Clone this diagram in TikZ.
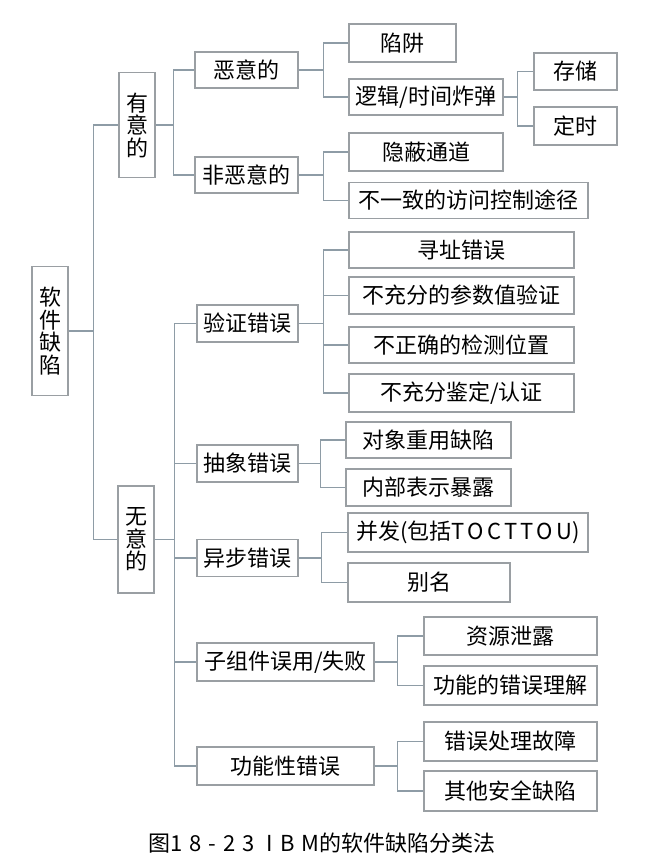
\documentclass[tikz,border=0pt]{standalone}
\usepackage{fontspec}
\setmainfont{Noto Sans CJK SC}
\newfontfamily\spaced[LetterSpace=15]{Noto Sans CJK SC}
\newfontfamily\wide[LetterSpace=32]{Noto Sans CJK SC}
\usetikzlibrary{calc}
\definecolor{lineGray}{HTML}{8E9CA6}
\definecolor{boxGray}{HTML}{9A9FA3}
\tikzset{
  link/.style={draw=lineGray, line width=1.4pt},
  boxT/.style={rectangle, draw=boxGray, line width=1.4pt, inner sep=0pt,
               align=center, font=\fontsize{22}{22.5}\selectfont},
  boxV/.style={boxT, minimum width=36pt},
}

\begin{document}
\begin{tikzpicture}[x=1pt, y=-1pt]
  \useasboundingbox (0,0) rectangle (657,857);
  % root and first level
  \node[boxV, minimum height=129pt] (root) at (50,331) {软\\件\\缺\\陷};
  \node[boxV, minimum height=105pt] (yes) at (137,125) {有\\意\\的};
  \node[boxV, minimum height=107pt] (no) at (136,539.5) {无\\意\\的};
  % intentional
  \node[boxT, minimum width=103pt, minimum height=36pt] (mal) at (246.5,70) {恶意的};
  \node[boxT, minimum width=103pt, minimum height=36pt] (nonmal) at (246.5,175) {非恶意的};
  \node[boxT, minimum width=107pt, minimum height=38pt] (trap) at (402.5,43) {陷阱};
  \node[boxT, minimum width=154pt, minimum height=36pt] (bomb) at (426,97) {逻辑/时间炸弹};
  \node[boxT, minimum width=83pt, minimum height=37pt] (store) at (575.5,71.5) {存储};
  \node[boxT, minimum width=83pt, minimum height=38pt] (timer) at (575.5,126) {定时};
  \node[boxT, minimum width=154pt, minimum height=38pt] (covert) at (426,152) {隐蔽通道};
  \node[boxT, minimum width=239pt, minimum height=36pt] (access) at (468.5,200.5) {不一致的访问控制途径};
  % unintentional
  \node[boxT, minimum width=101pt, minimum height=37pt] (verify) at (247.5,323.5) {验证错误};
  \node[boxT, minimum width=101pt, minimum height=37pt] (abstr) at (247.5,463.5) {抽象错误};
  \node[boxT, minimum width=101pt, minimum height=37pt] (async) at (247.5,558) {异步错误};
  \node[boxT, minimum width=177pt, minimum height=38pt] (sub) at (285.5,662) {子组件误用/失败};
  \node[boxT, minimum width=177pt, minimum height=38pt] (func) at (285.5,766) {功能性错误};
  \node[boxT, minimum width=225pt, minimum height=36pt] (addr) at (461.5,250) {寻址错误};
  \node[boxT, minimum width=225pt, minimum height=37pt] (param) at (461.5,295.5) {不充分的参数值验证};
  \node[boxT, minimum width=225pt, minimum height=36pt] (loc) at (461.5,345) {不正确的检测位置};
  \node[boxT, minimum width=225pt, minimum height=38pt] (auth) at (461.5,393) {不充分鉴定/认证};
  \node[boxT, minimum width=165pt, minimum height=36pt] (reuse) at (428.5,440) {对象重用缺陷};
  \node[boxT, minimum width=165pt, minimum height=37pt] (expose) at (428.5,487.5) {内部表示暴露};
  \node[boxT, minimum width=240pt, minimum height=39pt] (conc) at (468,532.5) {并发(包括{\spaced TOCTTOU})};
  \node[boxT, minimum width=162pt, minimum height=39pt] (alias) at (429,582.5) {别名};
  \node[boxT, minimum width=173pt, minimum height=38pt] (leak) at (510.5,636) {资源泄露};
  \node[boxT, minimum width=173pt, minimum height=39pt] (misund) at (510.5,685.5) {功能的错误理解};
  \node[boxT, minimum width=173pt, minimum height=39pt] (handl) at (510.5,741.5) {错误处理故障};
  \node[boxT, minimum width=173pt, minimum height=40pt] (other) at (510.5,791) {其他安全缺陷};
  % connectors
  \foreach \c in {yes,no} \draw[link] (root.east) -- ++(25,0) |- (\c.west);
  \foreach \c in {mal,nonmal} \draw[link] (yes.east) -- ++(18,0) |- (\c.west);
  \foreach \c in {trap,bomb} \draw[link] (mal.east) -- ++(25,0) |- (\c.west);
  \foreach \c in {store,timer} \draw[link] (bomb.east) -- ++(14,0) |- (\c.west);
  \foreach \c in {covert,access} \draw[link] (nonmal.east) -- ++(25,0) |- (\c.west);
  \foreach \c in {verify,abstr,async,sub,func} \draw[link] (no.east) -- ++(20,0) |- (\c.west);
  \foreach \c in {addr,param,loc,auth} \draw[link] (verify.east) -- ++(25,0) |- (\c.west);
  \foreach \c in {reuse,expose} \draw[link] (abstr.east) -- ++(22,0) |- (\c.west);
  \foreach \c in {conc,alias} \draw[link] (async.east) -- ++(23,0) |- (\c.west);
  \foreach \c in {leak,misund} \draw[link] (sub.east) -- ++(23,0) |- (\c.west);
  \foreach \c in {handl,other} \draw[link] (func.east) -- ++(23,0) |- (\c.west);
  % caption
  \node[font=\fontsize{22}{22.5}\selectfont] (caption) at (322,843) {图{\wide 18-23 IBM}的软件缺陷分类法};
\end{tikzpicture}
\end{document}
